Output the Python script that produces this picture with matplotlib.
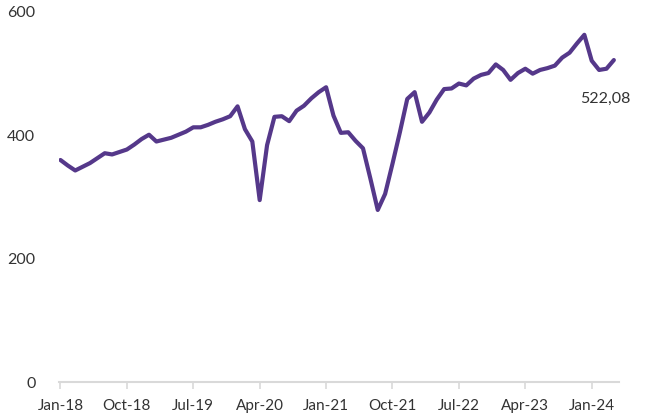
import numpy as np
import matplotlib
matplotlib.use("Agg")
from matplotlib import pyplot as plt

# monthly index values, Jan-18 .. Apr-24
values = [360, 351, 343, 349, 355, 363, 371, 369, 373, 377, 385, 394,
          401, 390, 393, 396, 401, 406, 413, 413, 417, 422, 426, 431,
          447, 410, 390, 295, 384, 430, 431, 423, 440, 448, 460, 470,
          478, 432, 404, 405, 391, 379, 330, 279, 305, 354, 405, 459,
          470, 422, 437, 458, 475, 476, 484, 481, 492, 498, 501, 515,
          506, 490, 501, 508, 500, 506, 509, 513, 526, 534, 549, 563,
          521, 506, 508, 522.08]
tick_labels = ["Jan-18", "Oct-18", "Jul-19", "Apr-20", "Jan-21",
               "Oct-21", "Jul-22", "Apr-23", "Jan-24"]
last_label = "522,08"

plt.rcParams['font.family'] = ['Lato', 'DejaVu Sans']
text_col = '#333333'
line_col = '#55388a'

fig = plt.figure(figsize=(6.49, 4.18), dpi=100)
ax = fig.add_axes([0.0909, 0.0861, 0.8629, 0.8852])

x = np.arange(len(values))
ax.plot(x, values, color=line_col, lw=3.0, solid_joinstyle='round', solid_capstyle='round')

ax.set_ylim(0, 600)
ax.set_xlim(-0.2, 75.7)
ax.set_yticks([0, 200, 400, 600])
ax.set_xticks(np.arange(0, 73, 9))
ax.set_xticklabels(tick_labels)

for s in ['top', 'right', 'left']:
    ax.spines[s].set_visible(False)
ax.spines['bottom'].set_color('#d9d9d9')
ax.spines['bottom'].set_linewidth(1.5)
ax.tick_params(axis='y', length=0, pad=17, labelsize=11.5, labelcolor=text_col)
ax.tick_params(axis='x', length=5, width=1.2, color='#d9d9d9', pad=7,
               labelsize=11, labelcolor=text_col)

ax.annotate(last_label, xy=(x[-1], values[-1]), xytext=(-6, -28),
            textcoords='offset points', ha='center', va='center',
            fontsize=11.5, color=text_col)

fig.savefig('out.png', dpi=100)
